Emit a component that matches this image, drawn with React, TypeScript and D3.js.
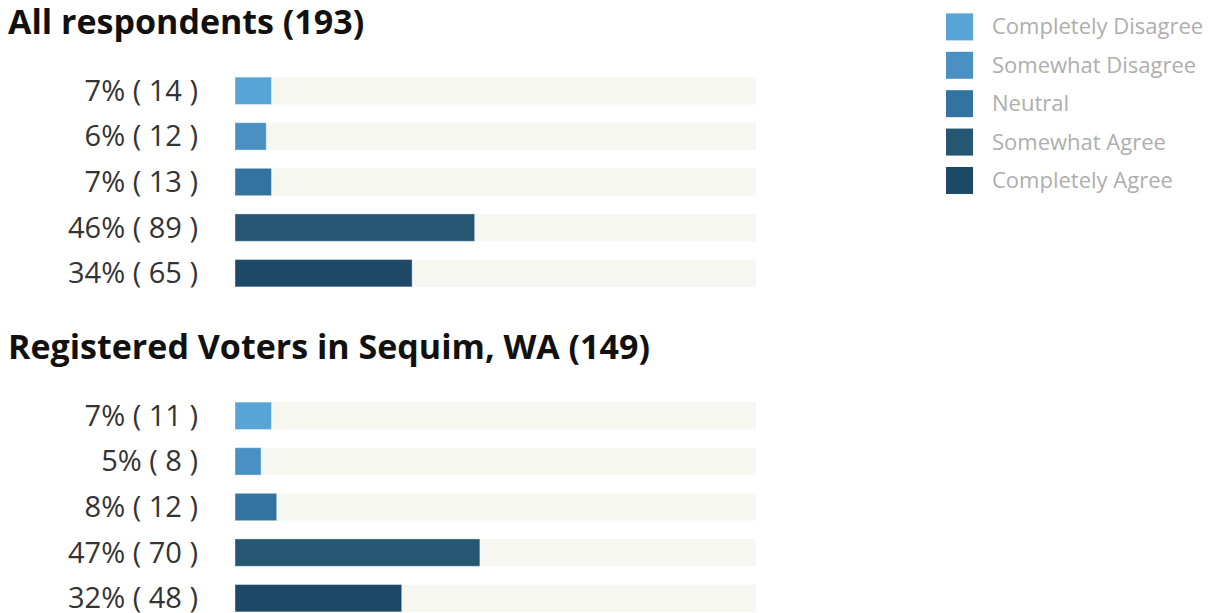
import React, { useEffect, useRef } from 'react';
import * as d3 from 'd3';

const categories = ['Completely Disagree', 'Somewhat Disagree', 'Neutral', 'Somewhat Agree', 'Completely Agree'];
const colors = ['#56a5d6', '#4a90c3', '#33739f', '#255672', '#1d4966'];

const groupTitles = ['All respondents (193)', 'Registered Voters in Sequim, WA (149)'];
const allCounts = [14, 12, 13, 89, 65];
const allPercents = [7, 6, 7, 46, 34];
const sequimCounts = [11, 8, 12, 70, 48];
const sequimPercents = [7, 5, 8, 47, 32];

const groups = [
  { title: groupTitles[0], counts: allCounts, percents: allPercents },
  { title: groupTitles[1], counts: sequimCounts, percents: sequimPercents },
];

const App: React.FC = () => {
  const ref = useRef<SVGSVGElement | null>(null);

  useEffect(() => {
    const width = 1209;
    const height = 613;
    const svg = d3.select(ref.current);
    svg.selectAll('*').remove();
    svg.attr('width', width).attr('height', height);

    const x = d3.scaleLinear().domain([0, 100]).range([235, 756]);
    const groupTop = [0, 325];

    groups.forEach((g, gi) => {
      const top = groupTop[gi];
      const grp = svg.append('g').attr('transform', `translate(0,${top})`);

      grp.append('text')
        .attr('x', 8)
        .attr('y', 34)
        .attr('font-family', 'Open Sans')
        .attr('font-weight', 700)
        .attr('font-size', '34px')
        .attr('fill', '#111')
        .text(g.title);

      const y = d3.scaleBand<number>()
        .domain(d3.range(categories.length))
        .range([68, 296])
        .paddingInner(0.4)
        .paddingOuter(0.2);

      const rows = grp.selectAll('g.row')
        .data(categories)
        .enter()
        .append('g')
        .attr('class', 'row');

      rows.append('rect')
        .attr('x', x(0))
        .attr('y', (_d, i) => y(i)!)
        .attr('width', x(100) - x(0))
        .attr('height', y.bandwidth())
        .attr('fill', '#f7f7f2');

      rows.append('rect')
        .attr('x', x(0))
        .attr('y', (_d, i) => y(i)!)
        .attr('width', (_d, i) => x(g.percents[i]) - x(0))
        .attr('height', y.bandwidth())
        .attr('fill', (_d, i) => colors[i])
        .attr('stroke', '#ffffff')
        .attr('stroke-opacity', 0.4)
        .attr('stroke-width', 1);

      rows.append('text')
        .attr('x', 198)
        .attr('y', (_d, i) => y(i)! + y.bandwidth() / 2 + 10)
        .attr('text-anchor', 'end')
        .attr('font-family', 'Open Sans')
        .attr('font-size', '29px')
        .attr('fill', '#333')
        .text((_d, i) => `${g.percents[i]}% ( ${g.counts[i]} )`);
    });

    // legend
    const ly = d3.scaleBand<number>()
      .domain(d3.range(categories.length))
      .range([8, 200])
      .paddingInner(0.28)
      .paddingOuter(0.14);

    const legend = svg.append('g');
    const items = legend.selectAll('g.item')
      .data(categories)
      .enter()
      .append('g')
      .attr('class', 'item');

    items.append('rect')
      .attr('x', 946)
      .attr('y', (_d, i) => ly(i)!)
      .attr('width', 27)
      .attr('height', 27)
      .attr('fill', (_d, i) => colors[i]);

    items.append('text')
      .attr('x', 992)
      .attr('y', (_d, i) => ly(i)! + 21)
      .attr('font-family', 'Open Sans')
      .attr('font-size', '22px')
      .attr('fill', '#aeaeae')
      .text(d => d);

    return () => {
      svg.selectAll('*').remove();
    };
  }, []);

  return <svg ref={ref} style={{ position: 'absolute', left: 0, top: 0 }} />;
};

export default App;
